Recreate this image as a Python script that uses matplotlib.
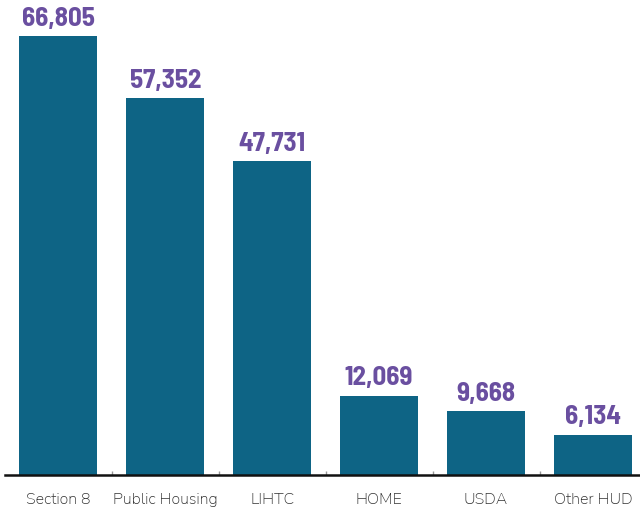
import matplotlib
matplotlib.use("Agg")
import matplotlib.pyplot as plt
from matplotlib.ticker import FixedLocator

categories = ["Section 8", "Public Housing", "LIHTC", "HOME", "USDA", "Other HUD"]
values = [66805, 57352, 47731, 12069, 9668, 6134]

fig = plt.figure(figsize=(6.4, 5.12), dpi=100)
ax = fig.add_axes([5/640, 37/512, 635/640, 475/512])

x = list(range(len(categories)))
ax.bar(x, values, width=0.73, color="#0E6485", zorder=2)

for xi, v in zip(x, values):
    ax.annotate(f"{v:,}", (xi, v), xytext=(0, 4), textcoords="offset points",
                ha="center", va="bottom", fontsize=19.5, fontweight="bold",
                color="#6A4FA0", family=["Barlow Semi Condensed", "DejaVu Sans"])

ax.set_xlim(-0.5, 5.44)
ax.set_ylim(0, 72300)
ax.set_xticks(x)
ax.set_xticklabels(categories, fontsize=11.5, color="#333333", family=["Nunito Sans", "DejaVu Sans"])
ax.tick_params(axis="x", length=0, pad=13)
ax.xaxis.set_minor_locator(FixedLocator([0.5, 1.5, 2.5, 3.5, 4.5]))
ax.tick_params(axis="x", which="minor", length=3, width=1, color="#999999", direction="in")
ax.set_yticks([])
for s in ["top", "right", "left"]:
    ax.spines[s].set_visible(False)
ax.spines["bottom"].set_linewidth(1.8)
ax.spines["bottom"].set_color("#111111")

fig.savefig("out.png", dpi=100)
